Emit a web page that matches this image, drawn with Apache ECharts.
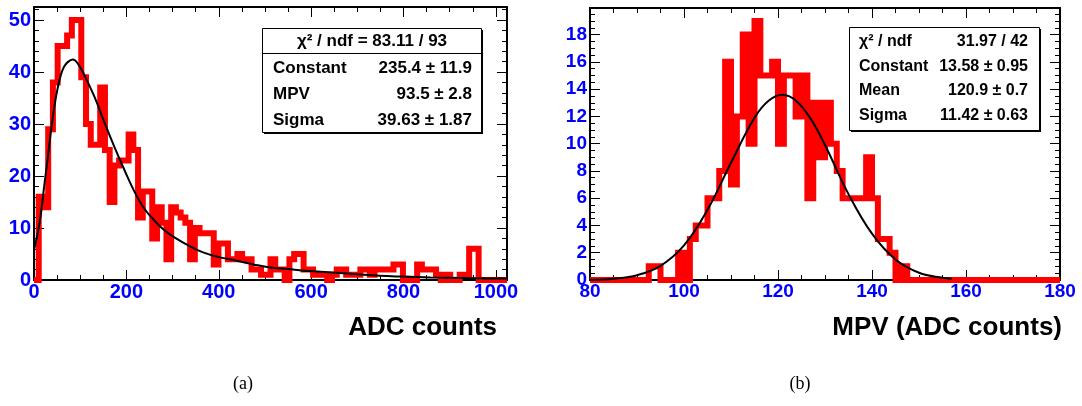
<!DOCTYPE html>
<html><head><meta charset="utf-8">
<script src="https://cdn.jsdelivr.net/npm/echarts@6/dist/echarts.min.js"></script>
<style>html,body{margin:0;padding:0;background:#fff}#c{width:1082px;height:406px}</style>
</head><body><div id="c"></div>
<script>
// ---------- (a) ADC counts histogram ----------
const leftXMin = 0, leftXMax = 1024, leftBinWidth = 10.24;
const leftYMax = 52.5;
const leftCounts = [0,16,14,29,38,45,45,47,50,50, 39,30,26,26,37,25,15,22,23,23,
  28,25,12,17,17,8,14,11,4,14, 13,12,11,4,10,9,9,9,3,7, 7,4,4,5,4,4,2,2,1,1,
  4,2,2,0,4,5,5,2,2,1, 1,1,0,1,2,2,1,1,1,2, 2,1,2,2,2,2,3,3,0,0,
  0,3,2,2,2,1,0,1,0,0, 1,1,6,6,0,0,0,0,0,0];
const leftFitX = [0,8,15,22,30,37,44,51,58,65,73,84,95,109,131,152,174,196,218,239,261,283,304,335,366,400,439,475,511,550,583,620,655,700,749,800,858,930,1003,1024];
const leftFitY = [5.8,9,12.7,18,23.6,28.8,33.3,36.8,39.4,41,41.9,42.4,41.6,39.4,35.2,30.4,25.6,21.1,16.9,13.7,11.4,9.5,8.2,6.6,5.3,4.4,3.7,3.0,2.4,2.1,1.8,1.6,1.4,1.1,0.8,0.65,0.5,0.4,0.3,0.3];
const leftXTickLabels = [0,200,400,600,800,1000];
const leftYTickLabels = [0,10,20,30,40,50];
const leftStatHeader = 'χ² / ndf = 83.11 / 93';
const leftStatNames = ['Constant','MPV','Sigma'];
const leftStatValues = ['235.4 ± 11.9','93.5 ± 2.8','39.63 ± 1.87'];

// ---------- (b) MPV histogram ----------
const rightXMin = 80, rightXMax = 180, rightBinWidth = 1.25;
const rightYMax = 19.95;
const rightCounts = [0,0,0,0,0,0,0,0,0,0, 1,1,0,0,0,2,0,3,4,4,
  6,6,8,16,7,12,18,10,19,15, 15,16,10,15,15,12,15,6,13,9,
  13,10,8,6,6,6,6,9,6,3, 3,2,0,1,0,0,0,0,0,0,
  0,0,0,0,0,0,0,0,0,0, 0,0,0,0,0,0,0,0,0,0];
const rightFitX = [80,85,90,95,100,105,110,115,118,121,124,127,130,135,140,145,150,155,157];
const rightFitY = [0.02,0.1,0.35,1.04,2.54,5.15,8.6,11.9,13.15,13.58,13.1,11.8,9.9,6.3,3.4,1.5,0.53,0.16,0.1];
const rightXTickLabels = [80,100,120,140,160,180];
const rightYTickLabels = [0,2,4,6,8,10,12,14,16,18];
const rightStatNames = ['χ² / ndf','Constant','Mean','Sigma'];
const rightStatValues = ['31.97 / 42','13.58 ± 0.95','120.9 ± 0.7','11.42 ± 0.63'];

const xTitles = ['ADC counts','MPV (ADC counts)'];
const captions = ['(a)','(b)'];

// ---------- helpers ----------
function stepData(min, w, counts) {
  const d = [];
  counts.forEach((c, i) => { d.push([min + i * w, c]); d.push([min + (i + 1) * w, c]); });
  return d;
}
function zip(a, b) { return a.map((v, i) => [v, b[i]]); }

const LBL = '#0000ff';
function axis(dim, grid, pos, min, max, interval, len, labels, fontSize) {
  const a = {
    type: 'value', gridIndex: grid, position: pos, min: min, max: max, interval: interval,
    axisLine: {show: true, onZero: false, lineStyle: {color: '#000', width: 2}},
    axisTick: {show: true, inside: true, length: len, lineStyle: {color: '#000', width: 1}},
    splitLine: {show: false}, minorTick: {show: false},
    axisLabel: {show: false}
  };
  if (labels) {
    a.axisLabel = {
      show: true, color: LBL, fontFamily: '"Liberation Sans", Arial, sans-serif', fontWeight: 'bold',
      fontSize: fontSize, margin: dim === 'x' ? 2 : 3,
      showMinLabel: true, showMaxLabel: true,
      formatter: v => labels.indexOf(Math.round(v * 1000) / 1000) >= 0 ? String(v) : ''
    };
  }
  return a;
}

const xAxes = [
  axis('x', 0, 'bottom', leftXMin, leftXMax, 200, 10, leftXTickLabels, 20),
  axis('x', 0, 'bottom', leftXMin, leftXMax, 50, 5),
  axis('x', 0, 'top', leftXMin, leftXMax, 200, 10),
  axis('x', 0, 'top', leftXMin, leftXMax, 50, 5),
  axis('x', 1, 'bottom', rightXMin, rightXMax, 20, 10, rightXTickLabels, 19),
  axis('x', 1, 'bottom', rightXMin, rightXMax, 5, 5),
  axis('x', 1, 'top', rightXMin, rightXMax, 20, 10),
  axis('x', 1, 'top', rightXMin, rightXMax, 5, 5)
];
const yAxes = [
  axis('y', 0, 'left', 0, leftYMax, 10, 10, leftYTickLabels, 20),
  axis('y', 0, 'left', 0, leftYMax, 2, 5),
  axis('y', 0, 'right', 0, leftYMax, 10, 10),
  axis('y', 0, 'right', 0, leftYMax, 2, 5),
  axis('y', 1, 'left', 0, rightYMax, 2, 10, rightYTickLabels, 19),
  axis('y', 1, 'left', 0, rightYMax, 0.5, 5),
  axis('y', 1, 'right', 0, rightYMax, 2, 10),
  axis('y', 1, 'right', 0, rightYMax, 0.5, 5)
];

const SF = '"Liberation Sans", Arial, sans-serif';
const graphic = [];
// left stats box
graphic.push({type: 'rect', shape: {x: 264, y: 30, width: 219, height: 104}, style: {fill: '#000'}, z: 10});
graphic.push({type: 'rect', shape: {x: 262.5, y: 28.5, width: 219, height: 104}, style: {fill: '#fff', stroke: '#000', lineWidth: 1}, z: 11});
graphic.push({type: 'line', shape: {x1: 262.5, y1: 53.5, x2: 481.5, y2: 53.5}, style: {stroke: '#000', lineWidth: 1}, z: 12});
graphic.push({type: 'text', z: 12, style: {text: leftStatHeader, x: 372, y: 41, font: 'bold 17px ' + SF, fill: '#000', textAlign: 'center', textVerticalAlign: 'middle'}});
const leftRowsY = [68, 94, 120];
leftStatNames.forEach((n, i) => {
  graphic.push({type: 'text', z: 12, style: {text: n, x: 273, y: leftRowsY[i], font: 'bold 17px ' + SF, fill: '#000', textAlign: 'left', textVerticalAlign: 'middle'}});
  graphic.push({type: 'text', z: 12, style: {text: leftStatValues[i], x: 472, y: leftRowsY[i], font: 'bold 17px ' + SF, fill: '#000', textAlign: 'right', textVerticalAlign: 'middle'}});
});
// right stats box
graphic.push({type: 'rect', shape: {x: 851, y: 29, width: 190, height: 103}, style: {fill: '#000'}, z: 10});
graphic.push({type: 'rect', shape: {x: 849.5, y: 27.5, width: 190, height: 103}, style: {fill: '#fff', stroke: '#000', lineWidth: 1}, z: 11});
const rightRowsY = [42, 67, 91, 116];
rightStatNames.forEach((n, i) => {
  graphic.push({type: 'text', z: 12, style: {text: n, x: 859, y: rightRowsY[i], font: 'bold 16px ' + SF, fill: '#000', textAlign: 'left', textVerticalAlign: 'middle'}});
  graphic.push({type: 'text', z: 12, style: {text: rightStatValues[i], x: 1028, y: rightRowsY[i], font: 'bold 16px ' + SF, fill: '#000', textAlign: 'right', textVerticalAlign: 'middle'}});
});
// axis titles
graphic.push({type: 'text', style: {text: xTitles[0], x: 497, y: 328, font: 'bold 26px ' + SF, fill: '#000', textAlign: 'right', textVerticalAlign: 'middle'}});
graphic.push({type: 'text', style: {text: xTitles[1], x: 1062, y: 328, font: 'bold 26px ' + SF, fill: '#000', textAlign: 'right', textVerticalAlign: 'middle'}});
// captions
graphic.push({type: 'text', style: {text: captions[0], x: 243, y: 384, font: '18px "Liberation Serif", "Times New Roman", serif', fill: '#000', textAlign: 'center', textVerticalAlign: 'middle'}});
graphic.push({type: 'text', style: {text: captions[1], x: 800, y: 384, font: '18px "Liberation Serif", "Times New Roman", serif', fill: '#000', textAlign: 'center', textVerticalAlign: 'middle'}});

const chart = echarts.init(document.getElementById('c'), null, {renderer: 'canvas'});
chart.setOption({
  backgroundColor: '#fff',
  animation: false,
  grid: [
    {left: 34, top: 7, width: 473, height: 273, containLabel: false},
    {left: 590, top: 8, width: 470, height: 272, containLabel: false}
  ],
  xAxis: xAxes,
  yAxis: yAxes,
  series: [
    {type: 'line', xAxisIndex: 0, yAxisIndex: 0, data: stepData(leftXMin, leftBinWidth, leftCounts),
     symbol: 'none', clip: false, lineStyle: {color: '#ff0000', width: 6, join: 'miter'}, z: 3},
    {type: 'line', xAxisIndex: 0, yAxisIndex: 0, data: zip(leftFitX, leftFitY), smooth: 0.4,
     symbol: 'none', lineStyle: {color: '#000', width: 2}, z: 4},
    {type: 'line', xAxisIndex: 4, yAxisIndex: 4, data: stepData(rightXMin, rightBinWidth, rightCounts),
     symbol: 'none', clip: false, lineStyle: {color: '#ff0000', width: 6, join: 'miter'}, z: 3},
    {type: 'line', xAxisIndex: 4, yAxisIndex: 4, data: zip(rightFitX, rightFitY), smooth: 0.4,
     symbol: 'none', lineStyle: {color: '#000', width: 2}, z: 4}
  ],
  graphic: graphic
});
</script>
</body></html>
